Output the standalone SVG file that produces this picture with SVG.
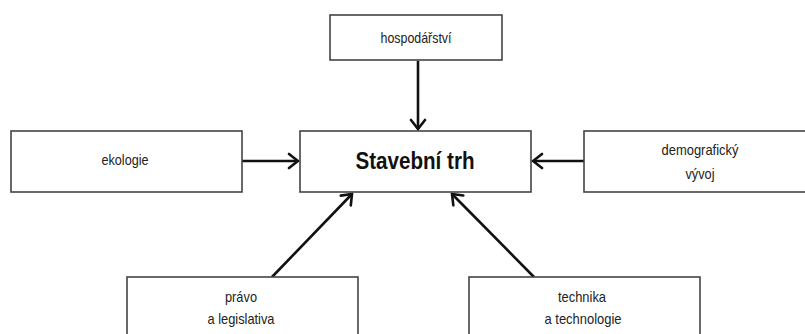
<svg xmlns="http://www.w3.org/2000/svg" width="805" height="334" viewBox="0 0 805 334">
<style>
.box{fill:#fff;stroke:#444;stroke-width:1.6}
.t{font-family:"Liberation Sans",Arial,sans-serif;font-size:15px;fill:#222;text-anchor:middle}
.tb{font-family:"Liberation Sans",Arial,sans-serif;font-size:24px;font-weight:bold;fill:#111;text-anchor:middle}
.c{stroke:#111;stroke-width:2.6;fill:none;marker-end:url(#ah)}
</style>
<defs>
<marker id="ah" markerUnits="userSpaceOnUse" viewBox="-12 -9 14 18" refX="0" refY="0" markerWidth="14" markerHeight="18" orient="auto">
<path d="M-9,-7 L0,0 L-9,7" fill="none" stroke="#111" stroke-width="2.6" stroke-linecap="round" stroke-linejoin="miter"/>
</marker>
</defs>
<rect width="805" height="334" fill="#fff"/>
<g id="connectors">
<line class="c" x1="418" y1="61" x2="418" y2="129"/>
<line class="c" x1="242" y1="161" x2="298" y2="161"/>
<line class="c" x1="584" y1="161" x2="533" y2="161"/>
<line class="c" x1="272" y1="277" x2="352" y2="194"/>
<line class="c" x1="534" y1="277" x2="452" y2="194"/>
</g>
<g id="hospodarstvi">
<rect class="box" x="330" y="15" width="172" height="45"/>
<text class="t" x="416" y="43" textLength="71" lengthAdjust="spacingAndGlyphs">hospodářství</text>
</g>
<g id="ekologie">
<rect class="box" x="11" y="131" width="231" height="61"/>
<text class="t" x="125" y="165" textLength="47" lengthAdjust="spacingAndGlyphs">ekologie</text>
</g>
<g id="stavebni-trh">
<rect class="box" x="300" y="131" width="231" height="61"/>
<text class="tb" x="415" y="169" textLength="119" lengthAdjust="spacingAndGlyphs">Stavební trh</text>
</g>
<g id="demograficky-vyvoj">
<rect class="box" x="584" y="131" width="232" height="61"/>
<text class="t" x="700" y="155" textLength="77" lengthAdjust="spacingAndGlyphs">demografický</text>
<text class="t" x="700" y="179" textLength="29" lengthAdjust="spacingAndGlyphs">vývoj</text>
</g>
<g id="pravo-a-legislativa">
<rect class="box" x="127" y="277" width="231" height="70"/>
<text class="t" x="241" y="302" textLength="32" lengthAdjust="spacingAndGlyphs">právo</text>
<text class="t" x="241" y="324" textLength="67" lengthAdjust="spacingAndGlyphs">a legislativa</text>
</g>
<g id="technika-a-technologie">
<rect class="box" x="469" y="277" width="231" height="70"/>
<text class="t" x="582" y="302" textLength="48" lengthAdjust="spacingAndGlyphs">technika</text>
<text class="t" x="583" y="324" textLength="77" lengthAdjust="spacingAndGlyphs">a technologie</text>
</g>
</svg>
